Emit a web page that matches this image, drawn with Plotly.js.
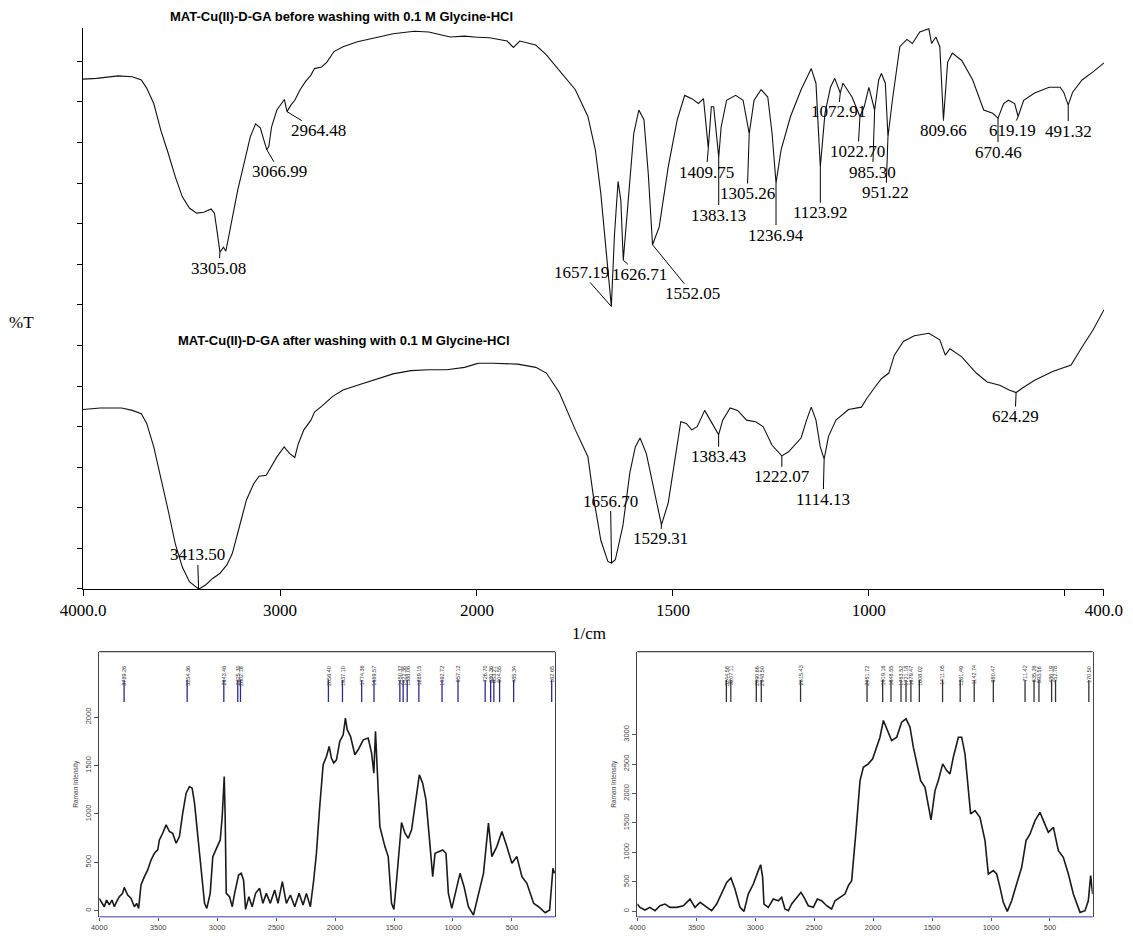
<!DOCTYPE html>
<html><head><meta charset="utf-8">
<script src="https://cdn.plot.ly/plotly-3.0.1.min.js"></script>
<style>html,body{margin:0;padding:0;background:#fff}#chart{width:1133px;height:943px}</style>
</head><body><div id="chart"></div>
<script>
// ---------- FTIR data (wavenumber 1/cm, %T in panel units) ----------
const ftirBeforeWn = [4000,3931,3822,3750,3704,3677,3641,3605,3568,3532,3496,3459,3423,3387,3350,3333,3318,3305.08,3287,3275,3251,3215,3179,3151,3124,3100,3082,3066.99,3057,3043,3016,2990,2978,2964.48,2945,2925,2898,2871,2843,2825,2789,2762,2726,2680,2607,2499,2426,2318,2245,2136,2063,1968,1923,1907,1891,1850,1823,1789,1749,1717,1698,1684,1670,1657.19,1649,1640,1633,1626.71,1614,1600,1587,1574,1563,1552.05,1535,1512,1489,1470,1452,1435,1422,1409.75,1402,1396,1383.13,1377,1363,1340,1321,1305.26,1293,1275,1258,1247,1236.94,1224,1200,1173,1147,1135,1123.92,1112,1098,1087,1072.91,1066,1043,1022.70,1012,1000,985.30,975,968,958,951.22,940,921,903,889,870,847,840,829,819,809.66,799,787,763,735,707,684,670.46,656,644,628,619.19,605,577,540,512,503,491.32,480,456,428,400];
const ftirBeforeT = [62.8,62.9,63.2,63.1,62.7,61.7,59.8,56.5,53.7,50.8,48.3,46.9,46.3,46.4,46.8,46.3,43.8,41.5,42.1,41.6,44.6,49.1,52.8,55.7,57.3,56.8,55.3,54.1,54.5,56.9,59.0,59.8,60.3,58.8,59.6,60.2,61.5,62.5,63.3,64.1,64.3,64.9,66.2,66.8,67.4,68.0,68.4,68.7,68.6,68.0,68.1,67.9,67.5,66.7,67.5,67.0,65.8,63.8,61.5,58.2,54.1,48.7,41.7,34.8,43.8,50.2,47.9,40.5,47.9,56.1,59.0,57.8,51.2,42.4,44.6,52.0,57.8,60.8,60.4,59.8,60.4,54.3,59.4,59.4,53.2,56.9,60.2,60.8,60.2,56.1,60.2,61.5,60.6,56.1,50.0,54.1,58.2,61.5,64.1,62.3,52.0,58.6,61.8,62.9,61.1,62.3,60.6,58.2,59.4,61.8,59.0,62.7,63.5,62.3,55.7,60.2,66.8,67.7,67.2,68.6,69.0,67.2,68.0,66.8,57.8,64.9,66.0,65.1,62.7,59.0,58.6,58.0,59.8,60.2,59.8,58.2,60.2,61.1,61.8,61.8,61.2,59.6,61.2,62.7,63.7,64.8];

const ftirAfterWn = [4000,3913,3804,3750,3704,3677,3641,3605,3568,3532,3496,3460,3427,3413.50,3405,3378,3342,3306,3269,3242,3206,3170,3133,3106,3070,3043,3015,2979,2952,2925,2907,2879,2843,2825,2789,2734,2680,2607,2517,2426,2336,2245,2154,2063,1995,1959,1896,1850,1823,1790,1749,1717,1703,1684,1666,1656.70,1647,1628,1610,1596,1584,1568,1549,1535,1529.31,1512,1493,1480,1466,1452,1438,1419,1400,1383.43,1373,1354,1335,1312,1289,1270,1247,1222.07,1205,1173,1159,1147,1135,1124,1114.13,1103,1084,1052,1019,1005,987,968,949,935,912,884,847,819,805,793,763,726,698,666,642,624.29,610,577,531,484,456,428,400];
const ftirAfterT = [22.1,22.3,22.3,22.0,21.6,20.4,17.5,13.8,9.7,5.6,2.7,0.9,0.2,0.0,0.1,0.5,1.3,1.9,3.0,4.4,7.7,11.0,13.0,13.9,14.0,15.1,16.3,17.5,16.7,16.2,17.9,19.6,20.8,21.8,22.5,23.7,24.5,25.1,25.8,26.5,26.9,27.0,27.0,27.3,27.8,27.8,27.7,27.3,26.6,24.2,19.6,16.3,11.4,6.0,3.4,3.2,3.6,7.7,14.3,17.5,18.6,16.7,12.2,8.9,7.9,10.6,16.7,20.6,20.4,19.6,20.0,22.0,20.4,19.0,20.8,22.3,22.0,20.8,20.6,20.0,17.7,16.4,16.9,18.6,20.8,22.4,20.8,17.5,16.0,18.8,20.8,22.1,22.4,23.5,24.7,25.9,26.6,28.8,30.5,31.2,31.5,30.7,28.8,29.6,28.6,26.6,25.5,25.1,24.5,24.2,24.7,25.7,26.8,27.6,29.8,31.9,34.4];

const peaksBefore = ["3305.08","3066.99","2964.48","1657.19","1626.71","1552.05","1409.75","1383.13","1305.26","1236.94","1123.92","1072.91","1022.70","985.30","951.22","809.66","670.46","619.19","491.32"];
const peaksAfter = ["3413.50","1656.70","1529.31","1383.43","1222.07","1114.13","624.29"];

const ftirTickValsHigh = [4000,3000,2000];
const ftirTickTextHigh = ["4000.0","3000","2000"];
const ftirTickValsLow = [1500,1000,500,400];
const ftirTickTextLow = ["1500","1000","","400.0"];

const titleBefore = "MAT-Cu(II)-D-GA before washing with 0.1 M Glycine-HCl";
const titleAfter = "MAT-Cu(II)-D-GA after washing with 0.1 M Glycine-HCl";

// ---------- Raman data ----------
const ramanWn1 = [4000,3977,3957,3938,3915,3892,3872,3853,3830,3802,3788,3759,3731,3702,3683,3666,3646,3617,3589,3561,3532,3504,3490,3462,3433,3405,3377,3348,3320,3292,3263,3235,3212,3192,3164,3136,3107,3088,3059,3037,3003,2974,2957,2940,2932,2923,2895,2872,2852,2818,2796,2776,2759,2731,2703,2674,2640,2612,2583,2549,2512,2484,2447,2413,2379,2342,2305,2271,2243,2209,2181,2158,2130,2101,2073,2050,2031,2011,1988,1960,1931,1912,1897,1869,1832,1804,1761,1719,1690,1671,1657,1648,1620,1577,1549,1521,1501,1478,1456,1436,1407,1379,1351,1314,1285,1257,1229,1201,1172,1152,1124,1087,1059,1039,1010,981,940,906,869,826,784,741,699,670,628,585,543,500,458,415,373,316,274,217,180,152,138];
const ramanI1 = [128,76,41,110,59,110,41,93,145,179,241,162,128,41,76,24,266,352,421,524,593,628,731,800,887,818,800,697,766,1007,1214,1283,1266,1111,766,386,76,24,179,559,662,731,973,1387,973,179,145,41,179,369,386,317,14,145,41,179,231,76,179,76,214,76,300,76,162,41,179,59,179,41,317,593,1076,1508,1594,1697,1577,1525,1559,1749,1818,1991,1870,1801,1611,1663,1766,1784,1628,1421,1853,1594,869,662,559,76,14,317,593,911,800,749,835,1180,1404,1318,1145,766,352,593,611,628,593,179,24,179,386,248,41,-45,179,386,904,559,662,818,662,490,559,352,283,76,41,-21,7,438,386];
const ramanWn2 = [4000,3977,3935,3893,3850,3808,3765,3723,3666,3610,3553,3511,3468,3426,3370,3327,3285,3242,3206,3172,3129,3095,3059,3016,2974,2954,2937,2926,2889,2847,2804,2776,2748,2719,2691,2649,2612,2586,2550,2507,2473,2437,2394,2352,2323,2281,2239,2210,2182,2145,2111,2083,2041,2004,1970,1942,1913,1885,1843,1800,1758,1721,1687,1659,1631,1597,1560,1532,1509,1475,1447,1410,1376,1348,1320,1277,1249,1221,1193,1173,1136,1094,1051,1023,980,952,924,896,862,825,783,740,703,669,627,585,556,514,471,429,387,344,302,245,203,175,155,138];
const ramanI2 = [125,68,23,68,11,96,125,68,68,96,209,68,153,96,11,125,294,492,566,379,68,0,294,464,691,792,577,125,68,209,181,238,40,11,125,238,323,238,96,68,209,181,96,40,181,238,294,436,521,1370,2219,2445,2502,2587,2785,2955,3238,3096,2898,2955,3209,3266,3124,2785,2502,2219,2106,1823,1551,2049,2219,2502,2389,2332,2615,2955,2955,2672,2106,1653,1709,1596,1200,634,691,634,408,153,0,181,464,747,1200,1313,1540,1681,1540,1341,1426,1030,917,634,294,-17,11,181,606,294];

const ramanPeaks1 = ["3789.26","3254.36","2943.46","2825.30","2802.18","2056.40","1937.10","1774.36","1669.57","1450.32","1422.36","1388.06","1289.15","1092.72","957.12","726.70","680.36","653.21","604.55","485.34","162.65"];
const ramanPeaks2 = ["3244.58","3207.11","2990.66","2948.50","2615.43","2051.72","1919.16","1848.55","1763.52","1721.18","1679.47","1608.02","1411.05","1261.49","1142.74","980.47","711.42","635.26","593.56","486.19","452.78","170.50"];

const ramanTickVals = [4000,3500,3000,2500,2000,1500,1000,500];
const ramanTickText = ["4000","3500","3000","2500","2000","1500","1000","500"];
const ramanYTicks1 = [0,500,1000,1500,2000];
const ramanYTicks2 = [0,500,1000,1500,2000,2500,3000];

// ---------- label offsets (styling, pixels) ----------
const offBefore = [[-1,16],[13,22],[31,19],[-30,-34],[16,14],[40,49],[-2,24],[0,58],[-2,60],[0,52],[0,46],[-2,19],[-2,35],[-2,62],[-2,56],[0,11],[0,34],[-6,14],[0,26]];
const offAfter = [[-1,-34],[-1,-62],[-1,14],[0,22],[0,21],[-1,40],[-1,24]];

// ---------- build ----------
const SPLIT = 2000;
function part(wn, v, high) {
  const ok = w => high ? w >= SPLIT : w <= SPLIT;
  const xs = [], ys = [];
  for (let i = 0; i < wn.length; i++) {
    const nb = (i > 0 && ok(wn[i-1])) || (i < wn.length-1 && ok(wn[i+1]));
    if (ok(wn[i]) || nb) { xs.push(wn[i]); ys.push(v[i]); }
  }
  return {xs, ys};
}
const lineStyle = {color: '#111', width: 1.1};
const traces = [];
[[ftirBeforeWn, ftirBeforeT], [ftirAfterWn, ftirAfterT]].forEach(([wn, v]) => {
  const hi = part(wn, v, true), lo = part(wn, v, false);
  traces.push({x: hi.xs, y: hi.ys, xaxis: 'x', yaxis: 'y', mode: 'lines', line: lineStyle, hoverinfo: 'skip'});
  traces.push({x: lo.xs, y: lo.ys, xaxis: 'x2', yaxis: 'y', mode: 'lines', line: lineStyle, hoverinfo: 'skip'});
});
traces.push({x: ramanWn1, y: ramanI1, xaxis: 'x3', yaxis: 'y3', mode: 'lines', line: {color: '#1a1a1a', width: 1.6}, hoverinfo: 'skip'});
traces.push({x: ramanWn2, y: ramanI2, xaxis: 'x4', yaxis: 'y4', mode: 'lines', line: {color: '#1a1a1a', width: 1.6}, hoverinfo: 'skip'});

const serif = 'Liberation Serif, Times New Roman, serif';
const sans = 'Liberation Sans, Arial, sans-serif';
const annotations = [];
function peakAnns(labels, wn, v, offs) {
  labels.forEach((lab, k) => {
    const w = parseFloat(lab);
    const i = wn.indexOf(w);
    annotations.push({
      x: w, y: v[i], xref: w >= SPLIT ? 'x' : 'x2', yref: 'y', text: lab,
      showarrow: true, arrowhead: 0, arrowwidth: 1, arrowcolor: '#000', standoff: 0,
      ax: offs[k][0], ay: offs[k][1], borderpad: 0,
      font: {family: serif, size: 17, color: '#000'}
    });
  });
}
peakAnns(peaksBefore, ftirBeforeWn, ftirBeforeT, offBefore);
peakAnns(peaksAfter, ftirAfterWn, ftirAfterT, offAfter);

annotations.push({xref: 'paper', yref: 'paper', x: 0.301, y: 0.982, xanchor: 'center', yanchor: 'middle', text: '<b>' + titleBefore + '</b>', showarrow: false, font: {family: sans, size: 13, color: '#000'}});
annotations.push({xref: 'paper', yref: 'paper', x: 0.304, y: 0.6387, xanchor: 'center', yanchor: 'middle', text: '<b>' + titleAfter + '</b>', showarrow: false, font: {family: sans, size: 13, color: '#000'}});
annotations.push({xref: 'paper', yref: 'paper', x: 0.019, y: 0.6575, xanchor: 'center', yanchor: 'middle', text: '%T', showarrow: false, font: {family: serif, size: 17, color: '#000'}});
annotations.push({xref: 'paper', yref: 'paper', x: 0.52, y: 0.3287, xanchor: 'center', yanchor: 'middle', text: '1/cm', showarrow: false, font: {family: serif, size: 17, color: '#000'}});

const shapes = [];
function ramanDeco(xa, ya, peaks, lineCol) {
  shapes.push({type: 'line', xref: xa + ' domain', yref: ya + ' domain', x0: 0, x1: 1, y0: 1, y1: 1, line: {color: '#444', width: 1.3}});
  shapes.push({type: 'line', xref: xa + ' domain', yref: ya + ' domain', x0: 0, x1: 1, y0: 0, y1: 0, line: {color: '#7b7bd6', width: 1.5}});
  peaks.forEach(p => {
    const w = parseFloat(p);
    shapes.push({type: 'line', xref: xa, yref: ya + ' domain', x0: w, x1: w, y0: 0.81, y1: 0.893, line: {color: lineCol, width: 1.3}});
    annotations.push({x: w, y: 0.955, xref: xa, yref: ya + ' domain', text: p, textangle: -90, showarrow: false, font: {family: sans, size: 5.5, color: '#333'}});
  });
}
ramanDeco('x3', 'y3', ramanPeaks1, '#2b2b8c');
ramanDeco('x4', 'y4', ramanPeaks2, '#333');

const ramanX = (dom, rng, anchor) => ({domain: dom, range: rng, anchor: anchor, tickvals: ramanTickVals, ticktext: ramanTickText, ticks: 'outside', ticklen: 3, tickcolor: '#555', showline: false, showgrid: false, zeroline: false, tickfont: {family: sans, size: 7.5, color: '#444'}});
const ramanY = (rng, anchor, tv) => ({domain: [0.0279, 0.3089], range: rng, anchor: anchor, tickvals: tv, ticktext: tv.map(String), tickangle: -90, ticks: 'outside', ticklen: 4, tickcolor: '#555', showline: true, mirror: true, linecolor: '#444', linewidth: 1.3, showgrid: false, zeroline: false, tickfont: {family: sans, size: 7.5, color: '#444'}, title: {text: 'Raman Intensity', font: {family: sans, size: 6.5, color: '#444'}, standoff: 4}});

const layout = {
  width: 1133, height: 943, margin: {l: 0, r: 0, t: 0, b: 0},
  paper_bgcolor: '#fff', plot_bgcolor: '#fff', showlegend: false,
  xaxis: {domain: [0.0733, 0.4210], range: [4000, 2000], anchor: 'y', tickvals: ftirTickValsHigh, ticktext: ftirTickTextHigh, ticks: 'outside', ticklen: 6, tickcolor: '#000', showline: true, linecolor: '#000', linewidth: 1, showgrid: false, zeroline: false, tickfont: {family: serif, size: 17, color: '#000'}},
  xaxis2: {domain: [0.4210, 0.9744], range: [2000, 400], anchor: 'y', tickvals: ftirTickValsLow, ticktext: ftirTickTextLow, ticks: 'outside', ticklen: 6, tickcolor: '#000', showline: true, linecolor: '#000', linewidth: 1, showgrid: false, zeroline: false, tickfont: {family: serif, size: 17, color: '#000'}},
  yaxis: {domain: [0.3754, 0.9703], range: [0, 69.1], anchor: 'x', dtick: 5, tick0: 0, ticks: 'outside', ticklen: 5, tickcolor: '#000', showticklabels: false, showline: true, linecolor: '#000', linewidth: 1, showgrid: false, zeroline: false},
  xaxis3: ramanX([0.0876, 0.4898], [4000, 135], 'y3'),
  yaxis3: ramanY([-62, 2676], 'x3', ramanYTicks1),
  xaxis4: ramanX([0.5625, 0.9644], [4000, 138], 'y4'),
  yaxis4: ramanY([-90, 4405], 'x4', ramanYTicks2),
  annotations: annotations, shapes: shapes
};
Plotly.newPlot('chart', traces, layout, {staticPlot: true, displayModeBar: false});
</script></body></html>
